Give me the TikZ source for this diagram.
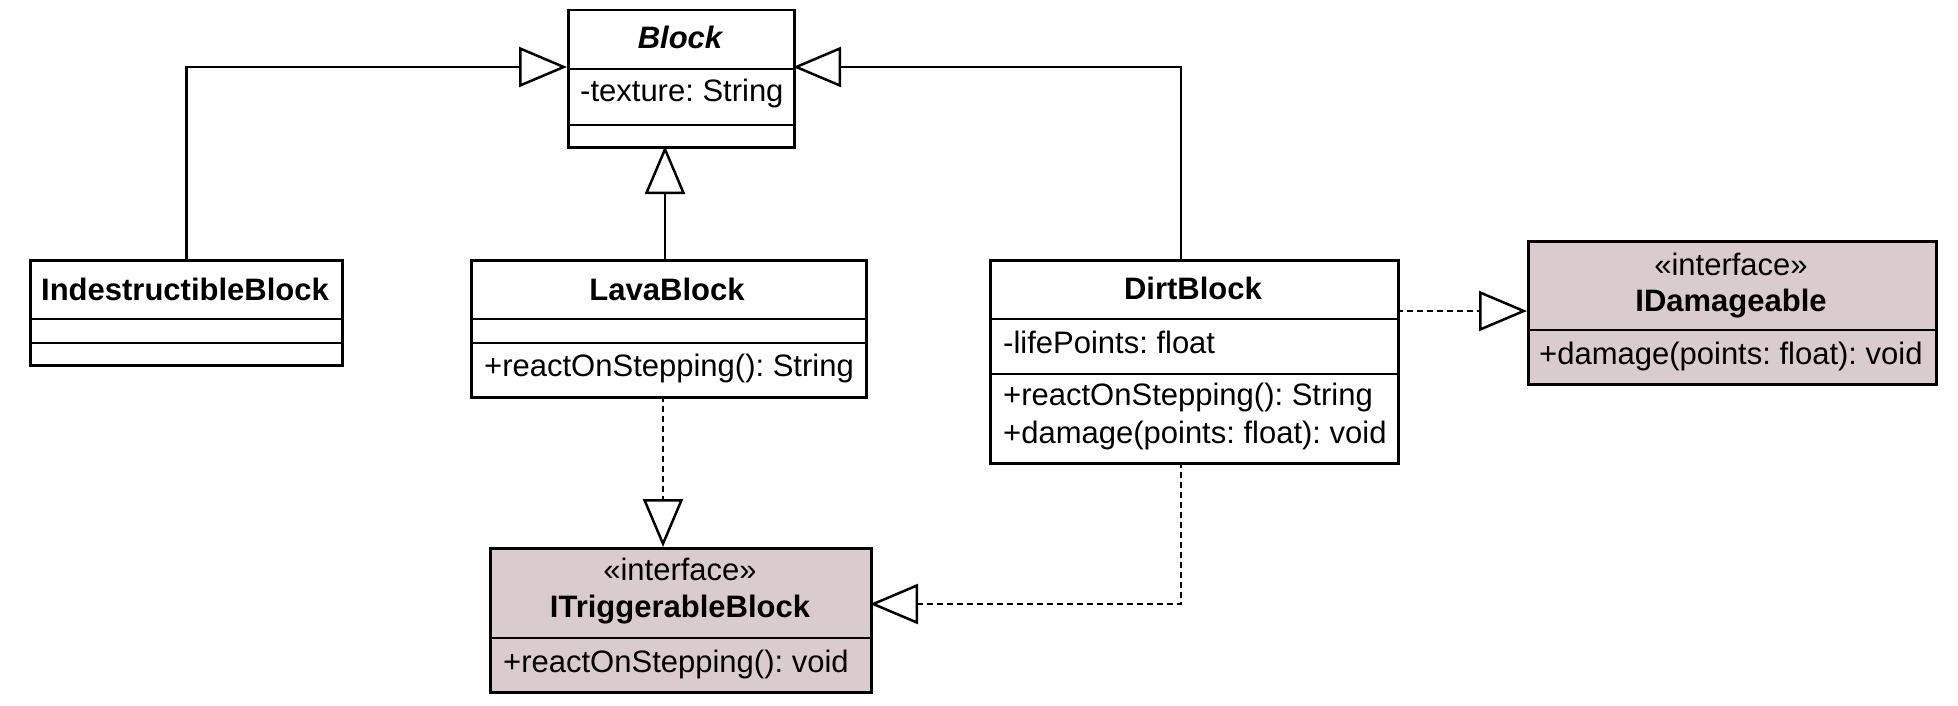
\documentclass[tikz,border=0pt]{standalone}
\usepackage{fontspec}
\setmainfont{Liberation Sans}
\usetikzlibrary{arrows.meta}
\definecolor{ifill}{RGB}{218,204,204}
\frenchspacing
\begin{document}
\begin{tikzpicture}[x=1pt,y=-1pt,
  cls/.style={draw, line width=2.5pt, inner sep=0pt, anchor=north west, rectangle, fill=white},
  iface/.style={cls, fill=ifill},
  divline/.style={line width=2.5pt},
  lbl/.style={inner sep=0pt, font=\fontsize{31}{37.5}\selectfont},
  ttl/.style={inner sep=0pt, font=\fontsize{31}{37.5}\selectfont\bfseries},
  inh/.style={line width=2.5pt, -{Triangle[length=48pt,width=40pt,fill=white]}},
  real/.style={inh, dash pattern=on 6pt off 4pt},
]
\fill[white] (0,0) rectangle (1958,706);
\useasboundingbox (0,0) rectangle (1958,706);

% class boxes
\node[cls, minimum width=226pt, minimum height=137pt] (block) at (567,9) {};
\node[cls, minimum width=312pt, minimum height=105pt] (ind) at (29,259) {};
\node[cls, minimum width=395pt, minimum height=137pt] (lava) at (470,259) {};
\node[cls, minimum width=408pt, minimum height=203pt] (dirt) at (989,259) {};
\node[iface, minimum width=408pt, minimum height=143pt] (idam) at (1527,240) {};
\node[iface, minimum width=381pt, minimum height=144pt] (itrig) at (489,547) {};

% dividers
\draw[divline] (block.west |- 0,69) -- (block.east |- 0,69);
\draw[divline] (block.west |- 0,125) -- (block.east |- 0,125);
\draw[divline] (ind.west |- 0,319) -- (ind.east |- 0,319);
\draw[divline] (ind.west |- 0,343) -- (ind.east |- 0,343);
\draw[divline] (lava.west |- 0,319) -- (lava.east |- 0,319);
\draw[divline] (lava.west |- 0,343) -- (lava.east |- 0,343);
\draw[divline] (dirt.west |- 0,319) -- (dirt.east |- 0,319);
\draw[divline] (dirt.west |- 0,374) -- (dirt.east |- 0,374);
\draw[divline] (idam.west |- 0,330) -- (idam.east |- 0,330);
\draw[divline] (itrig.west |- 0,638) -- (itrig.east |- 0,638);

% texts
\node[ttl, anchor=base, font=\fontsize{31}{37.5}\selectfont\bfseries\itshape] (tblock) at (680,49) {Block};
\node[lbl, anchor=base west] (ablock) at (580,102) {-texture: String};
\node[ttl, anchor=base] (tind) at (185,300) {IndestructibleBlock};
\node[ttl, anchor=base] (tlava) at (667,300) {LavaBlock};
\node[lbl, anchor=base west] (mlava) at (484,376) {+reactOnStepping(): String};
\node[ttl, anchor=base] (tdirt) at (1193,299) {DirtBlock};
\node[lbl, anchor=base west] (adirt) at (1003,353) {-lifePoints: float};
\node[lbl, anchor=base west] (mdirt1) at (1003,405) {+reactOnStepping(): String};
\node[lbl, anchor=base west] (mdirt2) at (1003,443) {+damage(points: float): void};
\node[lbl, anchor=base] (sidam) at (1731,275) {«interface»};
\node[ttl, anchor=base] (tidam) at (1731,311) {IDamageable};
\node[lbl, anchor=base west] (midam) at (1539,364) {+damage(points: float): void};
\node[lbl, anchor=base] (sitrig) at (680,580) {«interface»};
\node[ttl, anchor=base] (titrig) at (680,617) {ITriggerableBlock};
\node[lbl, anchor=base west] (mitrig) at (503,672) {+reactOnStepping(): void};

% connection points
\coordinate (bL) at (567,67);
\coordinate (bR) at (793,67);
\coordinate (bB) at (665,146);
\coordinate (lT) at (665,259);
\coordinate (lB) at (663,396);
\coordinate (tT) at (663,547);
\coordinate (dT) at (1181,259);
\coordinate (dR) at (1397,311);
\coordinate (iL) at (1527,311);
\coordinate (dB) at (1181,462);
\coordinate (tR) at (870,604);

% connectors
\draw[inh] (ind.north) |- (bL);
\draw[inh] (dT) |- (bR);
\draw[inh] (lT) -- (bB);
\draw[real] (lB) -- (tT);
\draw[real] (dR) -- (iL);
\draw[real] (dB) |- (tR);
\end{tikzpicture}
\end{document}
